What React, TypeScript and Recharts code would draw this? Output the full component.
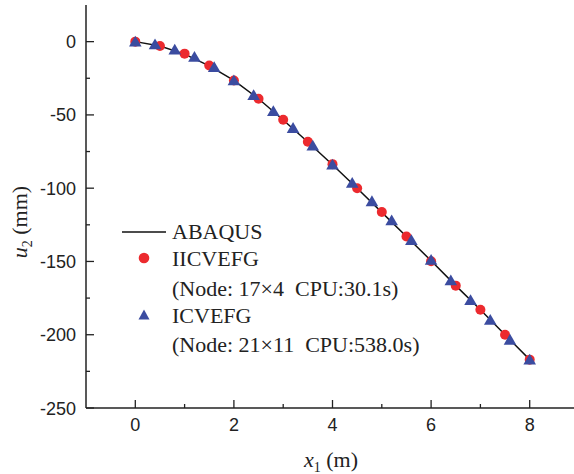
import React from "react";
import { ComposedChart, XAxis, YAxis, Line, Scatter } from "recharts";

// ABAQUS reference curve
const abaqusX = [0, 0.5, 1, 1.5, 2, 2.5, 3, 3.5, 4, 4.5, 5, 5.5, 6, 6.5, 7, 7.5, 8];
const abaqusU = [0, -3, -8.5, -16.5, -26.5, -39, -53.5, -68.5, -84, -100, -116.5, -133, -149.5, -166.5, -183, -200, -217];

// IICVEFG (17x4 nodes)
const iicX = [0, 0.5, 1, 1.5, 2, 2.5, 3, 3.5, 4, 4.5, 5, 5.5, 6, 6.5, 7, 7.5, 8];
const iicU = [0, -3, -8.2, -16.3, -26.5, -39, -53.3, -68.3, -83.6, -100, -116.3, -133, -149.8, -166.5, -183, -200, -217];

// ICVEFG (21x11 nodes)
const icX = [0, 0.4, 0.8, 1.2, 1.6, 2, 2.4, 2.8, 3.2, 3.6, 4, 4.4, 4.8, 5.2, 5.6, 6, 6.4, 6.8, 7.2, 7.6, 8];
const icU = [0, -2, -5.5, -10.5, -17.5, -26.5, -36.5, -47.5, -59, -71, -84, -96.5, -109, -122, -135.5, -149, -163, -176.5, -190, -203.5, -217];

const xTicks = [0, 1, 2, 3, 4, 5, 6, 7, 8];
const xLabels = [0, 2, 4, 6, 8];
const yTicks = [-250, -225, -200, -175, -150, -125, -100, -75, -50, -25, 0];
const yLabels = [-250, -200, -150, -100, -50, 0];

const abaqus = abaqusX.map((x, i) => ({ x, u: abaqusU[i] }));
const iic = iicX.map((x, i) => ({ x, u: iicU[i] }));
const ic = icX.map((x, i) => ({ x, u: icU[i] }));

const AXIS = "#222";
const RED = "#ec2a2e";
const BLUE = "#3b4ca0";
const TICK_FONT = "'Liberation Sans', Arial, sans-serif";
const SERIF = "'Liberation Serif', 'Times New Roman', serif";
const NB = "\u00a0";

// ticks point inward; labels only on the major ones
const BottomTick = (props: any) => {
  const { x, y, payload } = props;
  const major = xLabels.includes(payload.value);
  return (
    <g>
      <line x1={x} x2={x} y1={y} y2={y - (major ? 8 : 4)} stroke={AXIS} strokeWidth={1.3} />
      {major && (
        <text x={x} y={y + 22.5} textAnchor="middle" fontSize={18} fontFamily={TICK_FONT} fill="#222">
          {payload.value}
        </text>
      )}
    </g>
  );
};

const TopTick = (props: any) => {
  const { x, y, payload } = props;
  const major = xLabels.includes(payload.value);
  return <line x1={x} x2={x} y1={y} y2={y + (major ? 8 : 4)} stroke={AXIS} strokeWidth={1.3} />;
};

const LeftTick = (props: any) => {
  const { x, y, payload } = props;
  const major = yLabels.includes(payload.value);
  return (
    <g>
      <line x1={x} x2={x + (major ? 8 : 4)} y1={y} y2={y} stroke={AXIS} strokeWidth={1.3} />
      {major && (
        <text x={x - 10} y={y + 6.5} textAnchor="end" fontSize={18} fontFamily={TICK_FONT} fill="#222">
          {payload.value}
        </text>
      )}
    </g>
  );
};

const RightTick = (props: any) => {
  const { x, y, payload } = props;
  const major = yLabels.includes(payload.value);
  return <line x1={x} x2={x - (major ? 8 : 4)} y1={y} y2={y} stroke={AXIS} strokeWidth={1.3} />;
};

const Dot = (props: any) => <circle cx={props.cx} cy={props.cy} r={5} fill={RED} />;

const Tri = (props: any) => {
  const { cx, cy } = props;
  return <polygon points={`${cx},${cy - 6} ${cx - 6.3},${cy + 4.8} ${cx + 6.3},${cy + 4.8}`} fill={BLUE} />;
};

export default function App() {
  return (
    <div style={{ position: "absolute", left: 0, top: 0, width: 574, height: 474, overflow: "hidden", background: "#fff" }}>
      <ComposedChart width={620} height={474} margin={{ top: 5, right: 41, left: 0, bottom: 0 }}>
        <XAxis
          type="number"
          dataKey="x"
          domain={[-1, 9]}
          ticks={xTicks}
          interval={0}
          allowDataOverflow
          height={66}
          tickSize={0}
          tickMargin={0}
          tickLine={false}
          tick={<BottomTick />}
          axisLine={{ stroke: AXIS, strokeWidth: 1.5 }}
        />
        <XAxis
          xAxisId="top"
          orientation="top"
          type="number"
          dataKey="x"
          domain={[-1, 9]}
          ticks={xTicks}
          interval={0}
          allowDataOverflow
          height={0}
          tickSize={0}
          tickMargin={0}
          tickLine={false}
          tick={<TopTick />}
          axisLine={{ stroke: AXIS, strokeWidth: 1.5 }}
        />
        <YAxis
          type="number"
          dataKey="u"
          domain={[-250, 25]}
          ticks={yTicks}
          interval={0}
          allowDataOverflow
          width={86}
          tickSize={0}
          tickMargin={0}
          tickLine={false}
          tick={<LeftTick />}
          axisLine={{ stroke: AXIS, strokeWidth: 1.5 }}
        />
        <YAxis
          yAxisId="right"
          orientation="right"
          type="number"
          dataKey="u"
          domain={[-250, 25]}
          ticks={yTicks}
          interval={0}
          allowDataOverflow
          width={0}
          tickSize={0}
          tickMargin={0}
          tickLine={false}
          tick={<RightTick />}
          axisLine={{ stroke: AXIS, strokeWidth: 1.5 }}
        />
        <Line data={abaqus} dataKey="u" type="linear" stroke="#111" strokeWidth={1.5} dot={false} isAnimationActive={false} />
        <Scatter data={iic} dataKey="u" shape={<Dot />} isAnimationActive={false} />
        <Scatter data={ic} dataKey="u" shape={<Tri />} isAnimationActive={false} />
      </ComposedChart>
      <svg width={574} height={474} style={{ position: "absolute", left: 0, top: 0, pointerEvents: "none" }}>
        <text x={331} y={467} textAnchor="middle" fontSize={22} fontFamily={SERIF} fill="#222">
          <tspan fontStyle="italic">x</tspan>
          <tspan fontSize={14} dy={5}>1</tspan>
          <tspan dy={-5}>{" (m)"}</tspan>
        </text>
        <text x={27} y={222} textAnchor="middle" fontSize={22} fontFamily={SERIF} fill="#222" transform="rotate(-90, 27, 222)">
          <tspan fontStyle="italic">u</tspan>
          <tspan fontSize={14} dy={5}>2</tspan>
          <tspan dy={-5}>{" (mm)"}</tspan>
        </text>
        <g fontFamily={SERIF} fontSize={22} fill="#222">
          <line x1={122} x2={166} y1={232} y2={232} stroke="#111" strokeWidth={1.5} />
          <text x={172} y={239}>ABAQUS</text>
          <circle cx={144} cy={258} r={5.3} fill={RED} />
          <text x={172} y={266}>IICVEFG</text>
          <text x={172} y={296}>{`(Node: 17×4 ${NB}CPU:30.1s)`}</text>
          <polygon points="144,309.5 138.5,319.5 149.5,319.5" fill={BLUE} />
          <text x={172} y={323}>ICVEFG</text>
          <text x={172} y={352}>{`(Node: 21×11 ${NB}CPU:538.0s)`}</text>
        </g>
      </svg>
    </div>
  );
}
